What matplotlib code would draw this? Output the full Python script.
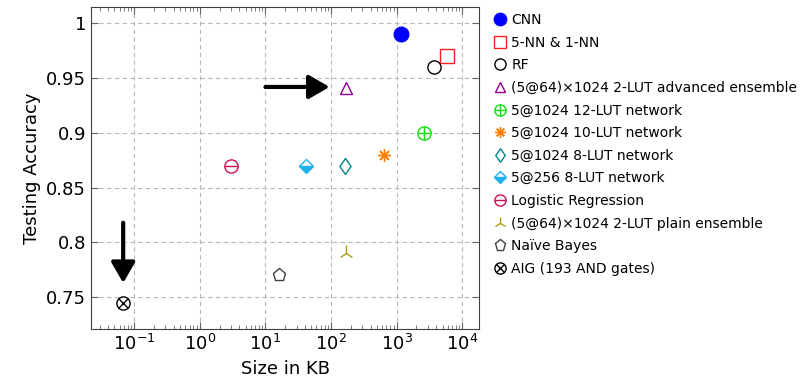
import matplotlib
matplotlib.use("Agg")
import matplotlib.pyplot as plt

# data (size in KB, testing accuracy)
labels = ["CNN", "5-NN & 1-NN", "RF", "(5@64)\u00d71024 2-LUT advanced ensemble",
          "5@1024 12-LUT network", "5@1024 10-LUT network", "5@1024 8-LUT network",
          "5@256 8-LUT network", "Logistic Regression", "(5@64)\u00d71024 2-LUT plain ensemble",
          "Na\u00efve Bayes", "AIG (193 AND gates)"]
sizes = [1150, 5800, 3750, 167, 2600, 650, 163, 41, 3.0, 167, 16, 0.068]
accuracy = [0.99, 0.97, 0.96, 0.941, 0.90, 0.88, 0.87, 0.87, 0.87, 0.79, 0.77, 0.745]

arrow_h = [(10, 0.942), (95, 0.942)]
arrow_v = [(0.068, 0.818), (0.068, 0.763)]

# narrow diamond like the pgfplots one
thin_diamond = [(0, -1), (0.7, 0), (0, 1), (-0.7, 0), (0, -1)]

fig = plt.figure(figsize=(8.07, 3.83), dpi=100)
ax = fig.add_axes([0.1128, 0.141, 0.4808, 0.8407])

ms = 9.5
handles = []
i = 0
# CNN
h, = ax.plot(sizes[i], accuracy[i], "o", ms=10.5, color="#0000ff", ls="none"); handles.append(h); i += 1
# 5-NN
h, = ax.plot(sizes[i], accuracy[i], "s", ms=ms, mfc="white", mec="#ff2020", mew=1, ls="none"); handles.append(h); i += 1
# RF
h, = ax.plot(sizes[i], accuracy[i], "o", ms=ms, mfc="white", mec="black", mew=1, ls="none"); handles.append(h); i += 1
# advanced ensemble
h, = ax.plot(sizes[i], accuracy[i], "^", ms=8.5, mfc="white", mec="#900090", mew=1, ls="none"); handles.append(h); i += 1
# 12-LUT circle plus
h1, = ax.plot(sizes[i], accuracy[i], "o", ms=ms, mfc="white", mec="#10e010", mew=1, ls="none")
h2, = ax.plot(sizes[i], accuracy[i], "+", ms=ms, mec="#10e010", mew=1, ls="none")
handles.append((h1, h2)); i += 1
# 10-LUT asterisk
h, = ax.plot(sizes[i], accuracy[i], marker=(8, 2, 0), ms=9, mec="#ff8000", mew=1, ls="none"); handles.append(h); i += 1
# 8-LUT diamond
h, = ax.plot(sizes[i], accuracy[i], marker=thin_diamond, ms=11.5, mfc="white", mec="#008888", mew=1, ls="none"); handles.append(h); i += 1
# 5@256 half diamond
h, = ax.plot(sizes[i], accuracy[i], "D", ms=7.5, fillstyle="bottom", mfc="#20b0f0", mfcalt="white",
             mec="#20b0f0", mew=1, ls="none"); handles.append(h); i += 1
# logistic regression circle minus
h1, = ax.plot(sizes[i], accuracy[i], "o", ms=ms, mfc="white", mec="#d01050", mew=1, ls="none")
h2, = ax.plot(sizes[i], accuracy[i], "_", ms=ms, mec="#d01050", mew=1, ls="none")
handles.append((h1, h2)); i += 1
# plain ensemble
h, = ax.plot(sizes[i], accuracy[i], "2", ms=11, mec="#b0a010", mew=1, ls="none"); handles.append(h); i += 1
# naive bayes
h, = ax.plot(sizes[i], accuracy[i], "p", ms=ms, mfc="white", mec="#404040", mew=1, ls="none"); handles.append(h); i += 1
# AIG circle times
h1, = ax.plot(sizes[i], accuracy[i], "o", ms=ms, mfc="white", mec="black", mew=1, ls="none")
h2, = ax.plot(sizes[i], accuracy[i], "x", ms=ms * 0.7, mec="black", mew=1, ls="none")
handles.append((h1, h2)); i += 1

style = "-|>,head_length=1.25,head_width=0.72"
ax.annotate("", xy=arrow_h[1], xytext=arrow_h[0],
            arrowprops=dict(arrowstyle=style, lw=3, color="black", shrinkA=0, shrinkB=0))
ax.annotate("", xy=arrow_v[1], xytext=arrow_v[0],
            arrowprops=dict(arrowstyle=style, lw=3, color="black", shrinkA=0, shrinkB=0))

ax.set_xscale("log")
ax.set_xlim(0.022, 18000)
ax.set_ylim(0.721, 1.015)
ax.set_yticks([0.75, 0.8, 0.85, 0.9, 0.95, 1.0])
ax.set_yticklabels(["0.75", "0.8", "0.85", "0.9", "0.95", "1"])
ax.grid(True, which="major", ls=(0, (4, 3)), color="#b8b8b8", lw=0.8)
ax.tick_params(which="both", direction="in", top=True, right=True, labelsize=13, color="#666666")
ax.tick_params(which="major", length=5)
ax.tick_params(which="minor", length=3)
for s in ax.spines.values():
    s.set_color("#404040")
ax.set_xlabel("Size in KB", fontsize=13)
ax.set_ylabel("Testing Accuracy", fontsize=13)

fig.legend(handles, labels, loc="upper left", bbox_to_anchor=(0.612, 0.966), frameon=False,
           fontsize=10, handlelength=0.9, handletextpad=0.35, labelspacing=0.62, borderpad=0,
           borderaxespad=0, markerscale=0.85)

fig.savefig("out.png", dpi=100)
